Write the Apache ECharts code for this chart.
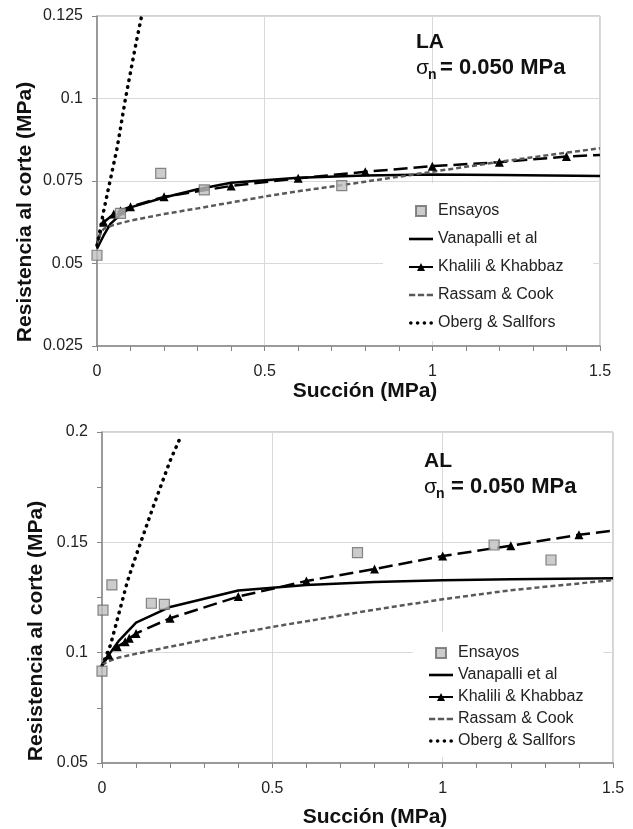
<!DOCTYPE html>
<html>
<head>
<meta charset="utf-8">
<script src="https://cdn.jsdelivr.net/npm/echarts@6/dist/echarts.min.js"></script>
<style>
html,body{margin:0;padding:0;background:#fff;}
#c{width:633px;height:829px;}
</style>
</head>
<body>
<div id="c"></div>
<script>
// ---------- DATA ----------
const seriesNames = ['Ensayos', 'Vanapalli et al', 'Khalili & Khabbaz', 'Rassam & Cook', 'Oberg & Sallfors'];
const xTitleLabel = 'Succión (MPa)';
const yTitleLabel = 'Resistencia al corte (MPa)';

// Chart 1: LA
const laEnsayosX = [0, 0.07, 0.19, 0.32, 0.73];
const laEnsayosY = [0.0525, 0.0652, 0.0773, 0.0723, 0.0736];
const laVanX = [0, 0.01, 0.02, 0.04, 0.07, 0.1, 0.2, 0.3, 0.4, 0.6, 0.8, 1.0, 1.2, 1.5];
const laVanY = [0.0545, 0.0565, 0.0585, 0.062, 0.0648, 0.067, 0.0700, 0.0725, 0.0745, 0.0760, 0.0767, 0.0770, 0.0768, 0.0765];
const laKhaX = [0, 0.02, 0.05, 0.07, 0.1, 0.2, 0.4, 0.6, 0.8, 1.0, 1.2, 1.4, 1.5];
const laKhaY = [0.056, 0.0625, 0.065, 0.066, 0.0672, 0.0702, 0.0735, 0.0758, 0.0778, 0.0795, 0.0807, 0.0824, 0.0829];
const laRasX = [0, 0.01, 0.02, 0.05, 0.1, 0.2, 0.3, 0.4, 0.5, 0.6, 0.7, 0.8, 0.9, 1.0, 1.1, 1.2, 1.3, 1.4, 1.5];
const laRasY = [0.0555, 0.059, 0.0605, 0.0617, 0.063, 0.065, 0.0667, 0.0685, 0.0703, 0.0719, 0.0733, 0.0748, 0.0763, 0.0778, 0.0793, 0.0808, 0.0822, 0.0836, 0.0849];
const laObeX = [0, 0.01, 0.02, 0.04, 0.06, 0.085, 0.1, 0.115, 0.132];
const laObeY = [0.0555, 0.0605, 0.066, 0.0755, 0.085, 0.1, 0.108, 0.116, 0.1245];

// Chart 2: AL
const alEnsayosX = [0, 0.003, 0.029, 0.145, 0.183, 0.75, 1.151, 1.318];
const alEnsayosY = [0.0916, 0.1193, 0.1307, 0.1224, 0.1219, 0.1453, 0.1488, 0.142];
const alVanX = [0, 0.02, 0.05, 0.1, 0.2, 0.4, 0.6, 0.8, 1.0, 1.2, 1.5];
const alVanY = [0.0944, 0.099, 0.1055, 0.1136, 0.1207, 0.1282, 0.1307, 0.132, 0.1328, 0.1333, 0.1337];
const alKhaX = [0, 0.02, 0.045, 0.068, 0.08, 0.1, 0.2, 0.4, 0.6, 0.8, 1.0, 1.2, 1.4, 1.5];
const alKhaY = [0.094, 0.0989, 0.1027, 0.1049, 0.1065, 0.1087, 0.1156, 0.1254, 0.1325, 0.1379, 0.1438, 0.1485, 0.1534, 0.1553];
const alRasX = [0, 0.02, 0.05, 0.1, 0.2, 0.3, 0.4, 0.5, 0.6, 0.8, 1.0, 1.2, 1.5];
const alRasY = [0.0945, 0.0962, 0.0978, 0.0995, 0.1027, 0.1058, 0.1088, 0.1117, 0.1142, 0.1195, 0.1242, 0.1283, 0.1329];
const alObeX = [0, 0.025, 0.05, 0.075, 0.1, 0.125, 0.15, 0.175, 0.2, 0.23];
const alObeY = [0.094, 0.1035, 0.118, 0.1325, 0.144, 0.155, 0.166, 0.1765, 0.187, 0.1975];

// ---------- BUILD ----------
const FONT = "'Liberation Sans', Arial, sans-serif";
const pairs = (xs, ys) => xs.map((x, i) => [x, ys[i]]);
const khalData = (xs, ys) => xs.map((x, i) => (i === 0 || i === xs.length - 1)
  ? { value: [x, ys[i]], symbol: 'none' } : { value: [x, ys[i]] });

function makeSeries(idx, d) {
  return [
    { name: seriesNames[0], type: 'scatter', xAxisIndex: idx, yAxisIndex: idx, z: 10,
      symbol: 'rect', symbolSize: 10, data: pairs(d.ensX, d.ensY),
      itemStyle: { color: '#bfbfbf', borderColor: '#6a6a6a', borderWidth: 1.2 } },
    { name: seriesNames[1], type: 'line', xAxisIndex: idx, yAxisIndex: idx, symbol: 'none',
      data: pairs(d.vanX, d.vanY), lineStyle: { color: '#000', width: 2.5 }, itemStyle: { color: '#000' } },
    { name: seriesNames[2], type: 'line', xAxisIndex: idx, yAxisIndex: idx, symbol: 'triangle', symbolSize: 9,
      showAllSymbol: true, data: khalData(d.khaX, d.khaY),
      lineStyle: { color: '#000', width: 2.5, type: [14, 6] }, itemStyle: { color: '#000' } },
    { name: seriesNames[3], type: 'line', xAxisIndex: idx, yAxisIndex: idx, symbol: 'none',
      data: pairs(d.rasX, d.rasY), lineStyle: { color: '#595959', width: 2.5, type: [5, 3] }, itemStyle: { color: '#595959' } },
    { name: seriesNames[4], type: 'line', xAxisIndex: idx, yAxisIndex: idx, symbol: 'none',
      data: pairs(d.obeX, d.obeY), lineStyle: { color: '#000', width: 3.5, type: [0.5, 6.5], cap: 'round' }, itemStyle: { color: '#000' } }
  ];
}

const axisLineStyle = { color: '#868686', width: 1.5 };
const labelStyle = { fontFamily: FONT, fontSize: 16, color: '#222' };
function xAxis(idx) {
  return { type: 'value', gridIndex: idx, min: 0, max: 1.5, interval: 0.5,
    axisLine: { show: true, lineStyle: axisLineStyle, onZero: false },
    axisTick: { show: true, length: 5, lineStyle: { color: '#868686' } },
    minorTick: { show: true, splitNumber: 5, length: 5, lineStyle: { color: '#868686' } },
    splitLine: { show: true, lineStyle: { color: '#d9d9d9', width: 1 } },
    axisLabel: Object.assign({ margin: 18 }, labelStyle) };
}
function yAxis(idx, min, max, interval, minor) {
  return { type: 'value', gridIndex: idx, min: min, max: max, interval: interval,
    axisLine: { show: true, lineStyle: axisLineStyle, onZero: false },
    axisTick: { show: true, length: 5, lineStyle: { color: '#868686' } },
    minorTick: { show: minor > 0, splitNumber: minor || 1, length: 5, lineStyle: { color: '#868686' } },
    splitLine: { show: true, lineStyle: { color: '#d9d9d9', width: 1 } },
    axisLabel: Object.assign({ margin: 14 }, labelStyle) };
}

const ICON_SOLID = 'path://M0,0L24,0L24,2.6L0,2.6Z';
const ICON_DASH = 'path://M0,0h6v2.6h-6z M8.5,0h6v2.6h-6z M17,0h6v2.6h-6z';
const ICON_DOT = 'path://M0,1.75a1.75,1.75 0 1,0 3.5,0a1.75,1.75 0 1,0 -3.5,0z M6.5,1.75a1.75,1.75 0 1,0 3.5,0a1.75,1.75 0 1,0 -3.5,0z M13,1.75a1.75,1.75 0 1,0 3.5,0a1.75,1.75 0 1,0 -3.5,0z M19.5,1.75a1.75,1.75 0 1,0 3.5,0a1.75,1.75 0 1,0 -3.5,0z';

function legend(left, top, pad, gap) {
  return { orient: 'vertical', left: left, top: top, padding: pad, itemGap: gap,
    itemWidth: 24, itemHeight: 10, backgroundColor: '#fff', selectedMode: false,
    textStyle: { fontFamily: FONT, fontSize: 16, color: '#222', lineHeight: 16 },
    data: [
      { name: seriesNames[0], icon: 'path://M0,0L10,0L10,10L0,10Z' },
      { name: seriesNames[1], icon: ICON_SOLID },
      { name: seriesNames[2], lineStyle: { type: 'solid' } },
      { name: seriesNames[3], icon: ICON_DASH },
      { name: seriesNames[4], icon: ICON_DOT }
    ] };
}

const boldTitle = (text, x, y, rot) => ({ type: 'text', x: x, y: y, rotation: rot || 0, z: 100,
  style: { text: text, font: "bold 21px " + FONT, fill: '#111', align: 'center', verticalAlign: 'middle' } });
const plainText = (text, x, y, size, weight, align) => ({ type: 'text', x: x, y: y, z: 100,
  style: { text: text, font: (weight || 'bold') + ' ' + size + 'px ' + FONT, fill: '#111', align: align || 'left', verticalAlign: 'middle' } });

const chart = echarts.init(document.getElementById('c'), null, { renderer: 'canvas' });
chart.setOption({
  animation: false,
  backgroundColor: '#fff',
  grid: [
    { left: 97, top: 16, width: 503, height: 330, show: true, borderColor: '#a6a6a6', borderWidth: 1, backgroundColor: 'transparent' },
    { left: 102, top: 432, width: 511, height: 331, show: true, borderColor: '#a6a6a6', borderWidth: 1, backgroundColor: 'transparent' }
  ],
  xAxis: [xAxis(0), xAxis(1)],
  yAxis: [yAxis(0, 0.025, 0.125, 0.025, 0), yAxis(1, 0.05, 0.2, 0.05, 2)],
  legend: [legend(383, 183, [20, 30, 10, 25], 12), legend(413, 632, [13, 20, 8, 15], 6)],
  series: [].concat(
    makeSeries(0, { ensX: laEnsayosX, ensY: laEnsayosY, vanX: laVanX, vanY: laVanY, khaX: laKhaX, khaY: laKhaY,
      rasX: laRasX, rasY: laRasY, obeX: laObeX, obeY: laObeY }),
    makeSeries(1, { ensX: alEnsayosX, ensY: alEnsayosY, vanX: alVanX, vanY: alVanY, khaX: alKhaX, khaY: alKhaY,
      rasX: alRasX, rasY: alRasY, obeX: alObeX, obeY: alObeY })
  ),
  graphic: [
    boldTitle(yTitleLabel, 25, 212, Math.PI / 2),
    boldTitle(xTitleLabel, 365, 391),
    boldTitle(yTitleLabel, 36, 631, Math.PI / 2),
    boldTitle(xTitleLabel, 375, 817),
    plainText('LA', 416, 42, 21),
    plainText('σ', 416, 68, 21, 'normal'),
    plainText('n', 428, 75, 14),
    plainText('= 0.050 MPa', 440, 68, 22),
    plainText('AL', 424, 461, 21),
    plainText('σ', 424, 487, 21, 'normal'),
    plainText('n', 436, 494, 14),
    plainText('= 0.050 MPa', 451, 487, 22)
  ]
});
</script>
</body>
</html>
